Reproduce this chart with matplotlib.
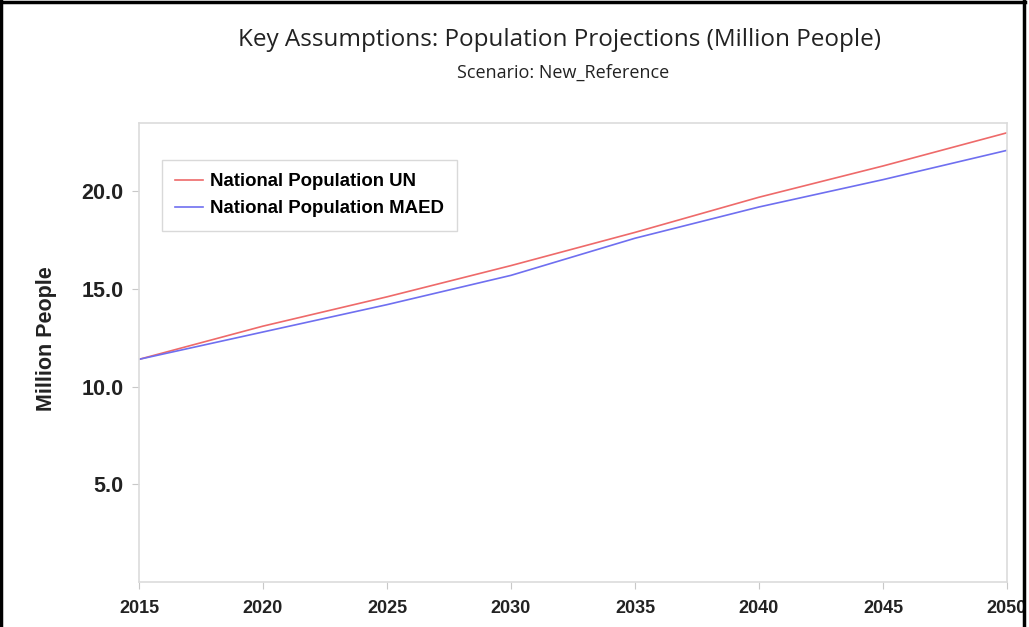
import matplotlib
matplotlib.use("Agg")
import matplotlib.pyplot as plt
from matplotlib.lines import Line2D
from matplotlib import font_manager

years = [2015, 2020, 2025, 2030, 2035, 2040, 2045, 2050]
pop_un = [11.4, 13.1, 14.6, 16.2, 17.9, 19.7, 21.3, 23.0]
pop_maed = [11.4, 12.8, 14.2, 15.7, 17.6, 19.2, 20.6, 22.1]
series_names = ["National Population UN", "National Population MAED"]
title = "Key Assumptions: Population Projections (Million People)"
subtitle = "Scenario: New_Reference"
y_label = "Million People"
y_ticks = [5.0, 10.0, 15.0, 20.0]

installed = {f.name for f in font_manager.fontManager.ttflist}
narrow = "Liberation Sans Narrow" if "Liberation Sans Narrow" in installed else "Liberation Sans"

fig = plt.figure(figsize=(10.29, 6.27), dpi=100)
ax = fig.add_axes([139 / 1029, 1 - 582 / 627, (1007 - 139) / 1029, (582 - 123) / 627])

ax.plot(years, pop_un, color="#ee6a6a", lw=1.2, label=series_names[0])
ax.plot(years, pop_maed, color="#6f6ff0", lw=1.2, label=series_names[1])

ax.set_xlim(2015, 2050)
ax.set_ylim(0, 23.5)
ax.set_xticks(years)
ax.set_xticklabels([str(y) for y in years], fontfamily=narrow, fontweight="bold", fontsize=13)
ax.set_yticks(y_ticks)
ax.set_yticklabels([f"{v:.1f}" for v in y_ticks], fontfamily="Liberation Sans", fontweight="bold", fontsize=15.5)
ax.tick_params(axis="both", colors="#c8c8c8", length=5, width=0.8, labelcolor="#222222")
ax.tick_params(axis="x", pad=8)
ax.tick_params(axis="y", pad=6)
for s in ax.spines.values():
    s.set_color("#dcdcdc")
    s.set_linewidth(1.2)

ax.set_ylabel(y_label, fontfamily="Liberation Sans", fontweight="bold", fontsize=15.5, color="#222222")
ax.yaxis.set_label_coords(-(139 - 57) / 868, (582 - 339) / 459)

leg = ax.legend(loc="upper left", bbox_to_anchor=(0.0265, 0.919), frameon=True, fancybox=False,
                borderaxespad=0.0,
                prop={"family": "Liberation Sans", "weight": "bold", "size": 13.4},
                handlelength=1.5, handletextpad=0.4, borderpad=0.7, labelspacing=0.55)
leg.get_frame().set_edgecolor("#d0d0d0")
leg.get_frame().set_linewidth(1.0)

fig.text(560 / 1029, 1 - 40 / 627, title, ha="center", va="center", fontsize=17.5,
         fontfamily="Open Sans", color="#222222")
fig.text(563 / 1029, 1 - 73 / 627, subtitle, ha="center", va="center", fontsize=13,
         fontfamily="Open Sans", color="#222222")

# Black frame on the left, top and right edges of the figure
for xs, ys in [((0.001, 0.001), (0, 0.998)), ((0.001, 0.996), (0.997, 0.997)), ((0.995, 0.995), (0, 0.998))]:
    fig.add_artist(Line2D(xs, ys, transform=fig.transFigure, color="black", lw=2.5))

fig.savefig("out.png", dpi=100)
